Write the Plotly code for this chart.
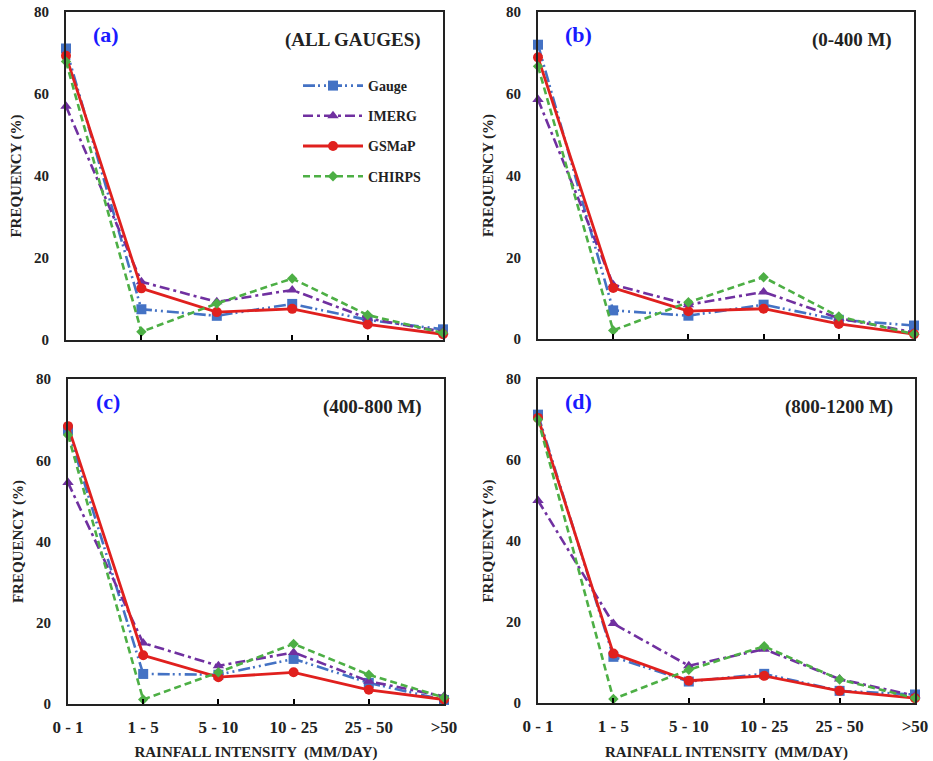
import plotly.graph_objects as go

categories = ["0 - 1", "1 - 5", "5 - 10", "10 - 25", "25 - 50", ">50"]
series_names = ["Gauge", "IMERG", "GSMaP", "CHIRPS"]

# panel (a) ALL GAUGES
a_gauge = [71.1, 7.5, 5.9, 8.8, 4.9, 2.6]
a_imerg = [57.0, 14.2, 9.3, 12.2, 5.3, 2.0]
a_gsmap = [69.3, 12.6, 6.8, 7.6, 3.8, 1.4]
a_chirps = [67.9, 2.0, 8.9, 15.0, 6.1, 1.7]
# panel (b) 0-400 M
b_gauge = [72.0, 7.0, 5.7, 8.4, 4.7, 3.3]
b_imerg = [58.6, 13.3, 8.4, 11.5, 5.1, 1.6]
b_gsmap = [68.9, 12.5, 6.8, 7.4, 3.7, 1.2]
b_chirps = [66.7, 2.1, 9.0, 15.1, 5.5, 1.2]
# panel (c) 400-800 M
c_gauge = [67.5, 7.4, 7.2, 11.1, 5.2, 1.0]
c_imerg = [54.5, 15.0, 9.4, 12.7, 5.6, 1.9]
c_gsmap = [68.4, 12.0, 6.6, 7.8, 3.5, 1.1]
c_chirps = [66.2, 1.1, 7.8, 14.8, 7.2, 1.6]
# panel (d) 800-1200 M
d_gauge = [71.2, 11.4, 5.3, 7.2, 3.0, 2.1]
d_imerg = [50.0, 19.6, 9.2, 13.3, 5.9, 1.8]
d_gsmap = [70.4, 12.2, 5.5, 6.7, 3.0, 1.2]
d_chirps = [70.0, 1.0, 8.2, 14.0, 5.8, 1.2]

panel_letters = ["(a)", "(b)", "(c)", "(d)"]
panel_titles = ["(ALL GAUGES)", "(0-400 M)", "(400-800 M)", "(800-1200 M)"]
y_ticks = [0, 20, 40, 60, 80]

panels = [
    [a_gauge, a_imerg, a_gsmap, a_chirps],
    [b_gauge, b_imerg, b_gsmap, b_chirps],
    [c_gauge, c_imerg, c_gsmap, c_chirps],
    [d_gauge, d_imerg, d_gsmap, d_chirps],
]

W, H = 933, 761
# pixel boxes: left, right, top, bottom
boxes = [(66, 443, 12, 340), (538, 914, 12, 339), (68, 444, 379, 704), (538, 915, 379, 703)]

styles = [
    dict(color="#4472C4", dash="12px,3px,2px,4px,2px,4px", symbol="square", msize=10, width=2.6),
    dict(color="#7030A0", dash="10px,4px,3px,4px", symbol="triangle-up", msize=10, width=2.6),
    dict(color="#E0201E", dash="solid", symbol="circle", msize=10, width=2.8),
    dict(color="#4DAF45", dash="7px,4px", symbol="diamond", msize=8, width=2.6),
]

FONT = "Liberation Serif"
fig = go.Figure()
layout = {}
annotations = []
xidx = list(range(len(categories)))

for p, (data, box) in enumerate(zip(panels, boxes)):
    n = "" if p == 0 else str(p + 1)
    xa, ya = "x" + n, "y" + n
    l, r, t, b = box
    for s, (vals, st) in enumerate(zip(data, styles)):
        fig.add_trace(go.Scatter(
            x=xidx, y=vals, xaxis=xa, yaxis=ya, name=series_names[s],
            legendgroup=series_names[s],
            mode="lines+markers", cliponaxis=False,
            line=dict(color=st["color"], dash=st["dash"], width=st["width"]),
            marker=dict(symbol=st["symbol"], size=st["msize"], color=st["color"]),
            showlegend=(p == 0),
        ))
    bottom_row = p >= 2
    layout["xaxis" + n] = dict(
        domain=[l / W, r / W], anchor=ya, range=[0, 5], automargin=False,
        tickmode="array", tickvals=xidx,
        ticktext=categories if bottom_row else [""] * len(categories),
        ticks="inside", ticklen=5, tickwidth=1.5, tickcolor="black",
        ticklabelstandoff=7,
        showline=True, linecolor="#222", linewidth=2, mirror=True,
        showgrid=False, zeroline=False,
        tickfont=dict(family=FONT, size=17, color="#222", weight="bold"),
        title=dict(text="RAINFALL INTENSITY  (MM/DAY)" if bottom_row else "",
                   font=dict(family=FONT, size=15, color="#222", weight="bold"), standoff=12),
    )
    layout["yaxis" + n] = dict(
        domain=[1 - b / H, 1 - t / H], anchor=xa, range=[0, 80], automargin=False,
        tickmode="array", tickvals=y_ticks,
        ticks="", ticklabelstandoff=12,
        showline=True, linecolor="#222", linewidth=2, mirror=True,
        showgrid=False, zeroline=False,
        tickfont=dict(family=FONT, size=15, color="#222", weight="bold"),
        title=dict(text="FREQUENCY (%)", font=dict(family=FONT, size=15, color="#222", weight="bold"), standoff=9),
    )
    annotations.append(dict(
        xref="paper", yref="paper", x=(l + 40) / W, y=1 - (t + 22) / H,
        text="<b>" + panel_letters[p] + "</b>", showarrow=False,
        xanchor="center", yanchor="middle",
        font=dict(family=FONT, size=22, color="#1a1aff"),
    ))
    annotations.append(dict(
        xref="paper", yref="paper", x=(r - 20) / W, y=1 - (t + 28) / H,
        text="<b>" + panel_titles[p] + "</b>", showarrow=False,
        xanchor="right", yanchor="middle",
        font=dict(family=FONT, size=19, color="#222"),
    ))

fig.update_layout(
    width=W, height=H, margin=dict(l=0, r=0, t=0, b=0),
    paper_bgcolor="white", plot_bgcolor="white",
    font=dict(family=FONT, color="#222"),
    annotations=annotations,
    legend=dict(x=298 / W, y=1 - 70 / H, xanchor="left", yanchor="top",
                bgcolor="rgba(0,0,0,0)", tracegroupgap=9,
                font=dict(family=FONT, size=14, color="#222", weight="bold"),
                itemwidth=60),
    **layout,
)
fig.write_html("out.html")
